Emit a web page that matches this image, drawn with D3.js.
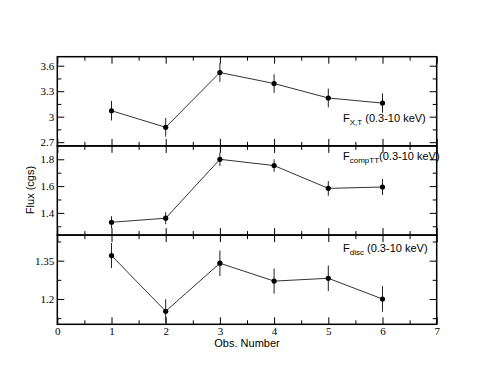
<!DOCTYPE html>
<html>
<head>
<meta charset="utf-8">
<script src="https://cdn.jsdelivr.net/npm/d3@7"></script>
<style>
  body { margin: 0; background: #fff; }
  .tick line { stroke: #000; stroke-width: 1; }
</style>
</head>
<body>
<svg id="drawing_region"></svg>
<script>
// observation numbers
const obs = [1, 2, 3, 4, 5, 6];

// F_X,T (0.3-10 keV)
const fxt = [3.07, 2.875, 3.52, 3.39, 3.22, 3.16];
const fxtErr = [0.115, 0.11, 0.11, 0.11, 0.11, 0.115];

// F_compTT (0.3-10 keV)
const fcomp = [1.33, 1.36, 1.80, 1.753, 1.583, 1.593];
const fcompErr = [0.045, 0.045, 0.05, 0.047, 0.055, 0.06];

// F_disc (0.3-10 keV)
const fdisc = [1.37, 1.152, 1.34, 1.27, 1.281, 1.20];
const fdiscErr = [0.049, 0.047, 0.05, 0.049, 0.05, 0.05];

const xTicks = [0, 1, 2, 3, 4, 5, 6, 7];

const config = {
    width: 494,
    height: 382,
    left: 57.3,
    right: 436.7,
    top: 56.7,
    panelH: 89.2
};

const panels = [
    { vals: fxt, errs: fxtErr, domain: [2.656, 3.706], major: [2.7, 3, 3.3, 3.6], minor: [2.85, 3.15, 3.45],
      fmt: d => d === 3 ? "3" : d3.format(".1f")(d), label: ["F", "X,T", " (0.3-10 keV)"], labelY: 121.7 },
    { vals: fcomp, errs: fcompErr, domain: [1.234, 1.9], major: [1.4, 1.6, 1.8], minor: [1.3, 1.5, 1.7],
      fmt: d3.format(".1f"), label: ["F", "compTT", "(0.3-10 keV)"], labelY: 160 },
    { vals: fdisc, errs: fdiscErr, domain: [1.101, 1.45], major: [1.2, 1.35], minor: [1.125, 1.275, 1.425],
      fmt: d3.format(".2~f"), label: ["F", "disc", " (0.3-10 keV)"], labelY: 251.7 }
];

const svg = d3.select('#drawing_region')
    .attr('width', config.width)
    .attr('height', config.height);

const x = d3.scaleLinear().domain([0, 7]).range([config.left, config.right]);
const xMinor = d3.range(0.5, 7, 1);

const serif = '"Liberation Serif", "Times New Roman", serif';
const sans = '"Liberation Sans", Arial, sans-serif';

panels.forEach((p, i) => {
    const y0 = config.top + i * config.panelH;
    const y1 = y0 + config.panelH;
    const y = d3.scaleLinear().domain(p.domain).range([y1, y0]);

    const g = svg.append('g');

    // x ticks, bottom and top, pointing inward
    const xb = g.append('g').attr('transform', `translate(0,${y1})`)
        .call(d3.axisBottom(x).tickValues(xTicks).tickSize(-7).tickPadding(0)
            .tickFormat(i === 2 ? d3.format("d") : ""));
    g.append('g').attr('transform', `translate(0,${y1})`)
        .call(d3.axisBottom(x).tickValues(xMinor).tickSize(-4).tickFormat(""));
    g.append('g').attr('transform', `translate(0,${y0})`)
        .call(d3.axisTop(x).tickValues(xTicks).tickSize(-7).tickFormat(""));
    g.append('g').attr('transform', `translate(0,${y0})`)
        .call(d3.axisTop(x).tickValues(xMinor).tickSize(-4).tickFormat(""));

    // y ticks, left and right, pointing inward
    const yl = g.append('g').attr('transform', `translate(${config.left},0)`)
        .call(d3.axisLeft(y).tickValues(p.major).tickSize(-7).tickPadding(3).tickFormat(p.fmt));
    g.append('g').attr('transform', `translate(${config.left},0)`)
        .call(d3.axisLeft(y).tickValues(p.minor).tickSize(-4).tickFormat(""));
    g.append('g').attr('transform', `translate(${config.right},0)`)
        .call(d3.axisRight(y).tickValues(p.major).tickSize(-7).tickFormat(""));
    g.append('g').attr('transform', `translate(${config.right},0)`)
        .call(d3.axisRight(y).tickValues(p.minor).tickSize(-4).tickFormat(""));

    g.selectAll('.domain').remove();
    xb.selectAll('text').attr('dy', '0.95em');
    g.selectAll('.tick text')
        .attr('font-family', serif)
        .attr('font-size', 11)
        .attr('fill', '#000');

    // frame
    g.append('rect')
        .attr('x', config.left).attr('y', y0)
        .attr('width', config.right - config.left).attr('height', config.panelH)
        .attr('fill', 'none').attr('stroke', '#000').attr('stroke-width', 1.5);

    const pts = obs.map((o, k) => ({ o: o, v: p.vals[k], e: p.errs[k] }));

    // error bars
    g.selectAll('line.err').data(pts).enter().append('line')
        .attr('class', 'err')
        .attr('x1', d => x(d.o)).attr('x2', d => x(d.o))
        .attr('y1', d => y(d.v - d.e)).attr('y2', d => y(d.v + d.e))
        .attr('stroke', '#222').attr('stroke-width', 1);

    // connecting line
    g.append('path').datum(pts)
        .attr('d', d3.line().x(d => x(d.o)).y(d => y(d.v)))
        .attr('fill', 'none').attr('stroke', '#333').attr('stroke-width', 1);

    // markers
    g.selectAll('circle').data(pts).enter().append('circle')
        .attr('cx', d => x(d.o)).attr('cy', d => y(d.v)).attr('r', 2.6)
        .attr('fill', '#000');

    // panel label
    const t = g.append('text')
        .attr('x', 343).attr('y', p.labelY)
        .style('font-family', sans)
        .style('font-size', '11px')
        .attr('fill', '#000');
    t.append('tspan').text(p.label[0]);
    t.append('tspan').attr('dy', 3).style('font-size', '8px').text(p.label[1]);
    t.append('tspan').attr('dy', -3).text(p.label[2]);
});

// axis titles
svg.append('text')
    .attr('x', 247).attr('y', 347)
    .attr('text-anchor', 'middle')
    .style('font-family', sans)
    .style('font-size', '11px')
    .text('Obs. Number');

svg.append('text')
    .attr('transform', 'translate(34,190) rotate(-90)')
    .attr('text-anchor', 'middle')
    .style('font-family', sans)
    .style('font-size', '11px')
    .text('Flux (cgs)');
</script>
</body>
</html>
